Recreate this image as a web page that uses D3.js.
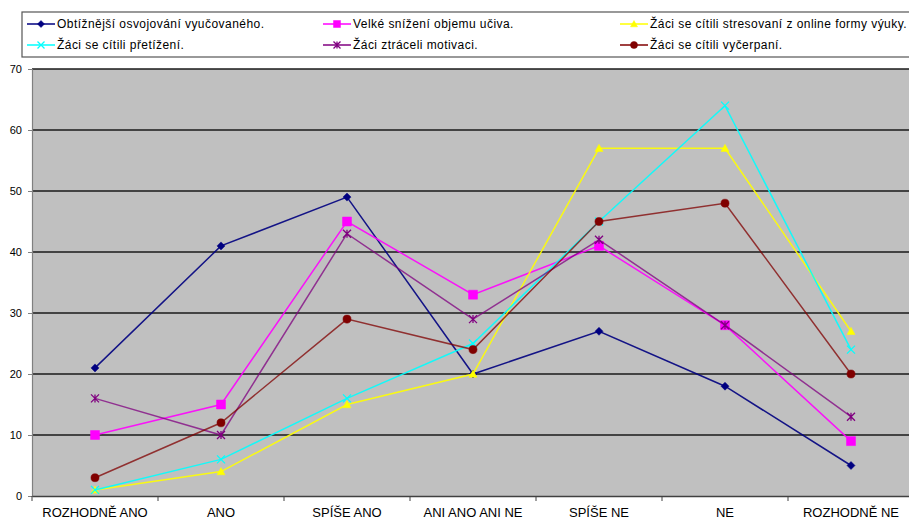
<!DOCTYPE html>
<html>
<head>
<meta charset="utf-8">
<script src="https://cdn.jsdelivr.net/npm/d3@7"></script>
<style>
  body { margin: 0; background: #fff; }
  svg { display: block; }
</style>
</head>
<body>
<svg id="chart" width="909" height="519"></svg>
<script>
const categories = ["ROZHODNĚ ANO", "ANO", "SPÍŠE ANO", "ANI ANO ANI NE", "SPÍŠE NE", "NE", "ROZHODNĚ NE"];
const yTicks = [0, 10, 20, 30, 40, 50, 60, 70];

const obtiznejsi = [21, 41, 49, 20, 27, 18, 5];
const snizeni = [10, 15, 45, 33, 41, 28, 9];
const stresovani = [1, 4, 15, 20, 57, 57, 27];
const pretizeni = [1, 6, 16, 25, 45, 64, 24];
const motivace = [16, 10, 43, 29, 42, 28, 13];
const vycerpani = [3, 12, 29, 24, 45, 48, 20];

const series = [
  { name: "Obtížnější osvojování vyučovaného.", values: obtiznejsi, color: "#000080", marker: "diamond" },
  { name: "Velké snížení objemu učiva.", values: snizeni, color: "#ff00ff", marker: "square" },
  { name: "Žáci se cítili stresovaní z online formy výuky.", values: stresovani, color: "#ffff00", marker: "triangle" },
  { name: "Žáci se cítili přetížení.", values: pretizeni, color: "#00ffff", marker: "x" },
  { name: "Žáci ztráceli motivaci.", values: motivace, color: "#800080", marker: "star" },
  { name: "Žáci se cítili vyčerpaní.", values: vycerpani, color: "#800000", marker: "circle" }
];

const svg = d3.select("#chart");
const plot = { left: 32, right: 914, top: 69, bottom: 496 };

const x = d3.scaleBand().domain(categories).range([plot.left, plot.right]);
const y = d3.scaleLinear().domain([0, 70]).range([plot.bottom, plot.top]);
const cx = c => x(c) + x.bandwidth() / 2;

// plot background
svg.append("rect")
  .attr("x", plot.left).attr("y", plot.top)
  .attr("width", plot.right - plot.left).attr("height", plot.bottom - plot.top)
  .attr("fill", "#c0c0c0");

// gridlines
svg.append("g")
  .selectAll("line")
  .data(yTicks.filter(d => d > 0))
  .join("line")
  .attr("x1", plot.left).attr("x2", plot.right)
  .attr("y1", d => y(d)).attr("y2", d => y(d))
  .attr("stroke", "#1a1a1a").attr("stroke-width", 1.6);

// y axis
const yAxis = svg.append("g")
  .attr("transform", `translate(${plot.left},0)`)
  .call(d3.axisLeft(y).tickValues(yTicks).tickSize(4).tickPadding(6));
yAxis.select(".domain").attr("stroke", "#808080").attr("stroke-width", 1.2);
yAxis.selectAll(".tick line").attr("stroke", "#808080");
yAxis.selectAll("text")
  .attr("font-family", "Liberation Sans, Arial, sans-serif")
  .attr("font-size", 11).attr("fill", "#000");

// x axis (labels sit at the very bottom edge, as in the original)
const xAxis = svg.append("g")
  .attr("transform", `translate(0,${plot.bottom})`)
  .call(d3.axisBottom(x).tickSize(0));
xAxis.select(".domain").attr("stroke", "#404040").attr("stroke-width", 1.6);
xAxis.selectAll("text")
  .attr("y", 21).attr("dy", 0)
  .attr("font-family", "Liberation Sans, Arial, sans-serif")
  .attr("font-size", 13).attr("fill", "#000");
// tick marks at category boundaries
svg.append("g")
  .selectAll("line")
  .data(categories)
  .join("line")
  .attr("x1", d => x(d)).attr("x2", d => x(d))
  .attr("y1", plot.bottom).attr("y2", plot.bottom + 5)
  .attr("stroke", "#404040");

const markerPath = (type, size) => {
  const r = size / 2;
  switch (type) {
    case "diamond": return `M0,${-r}L${r},0L0,${r}L${-r},0Z`;
    case "square": return `M${-r},${-r}H${r}V${r}H${-r}Z`;
    case "triangle": return `M0,${-r}L${r},${r * 0.8}L${-r},${r * 0.8}Z`;
    case "x": return `M${-r},${-r}L${r},${r}M${r},${-r}L${-r},${r}`;
    case "star": return `M${-r},${-r}L${r},${r}M${r},${-r}L${-r},${r}M0,${-r}V${r}`;
    default: return d3.symbol(d3.symbolCircle, size * size * 0.8)();
  }
};

const drawMarker = (g, s, size) => {
  const open = s.marker === "x" || s.marker === "star";
  g.append("path")
    .attr("d", markerPath(s.marker, size))
    .attr("fill", open ? "none" : s.color)
    .attr("stroke", s.color)
    .attr("stroke-width", open ? 1.3 : 0.5);
};

const line = d3.line().x((d, i) => cx(categories[i])).y(d => y(d));

series.forEach(s => {
  svg.append("path")
    .datum(s.values)
    .attr("d", line)
    .attr("fill", "none")
    .attr("stroke", s.color)
    .attr("stroke-width", 1.5)
    .attr("stroke-opacity", s.color === "#800080" || s.color === "#800000" ? 0.75 : 0.9);
  s.values.forEach((v, i) => {
    const g = svg.append("g").attr("transform", `translate(${cx(categories[i])},${y(v)})`);
    drawMarker(g, s, s.marker === "square" ? 9 : 8);
  });
});

// legend
const legend = svg.append("g");
legend.append("rect")
  .attr("x", 22).attr("y", 12).attr("width", 895).attr("height", 45)
  .attr("fill", "#fff").attr("stroke", "#555").attr("stroke-width", 1.2);

const colX = [27, 323, 620];
const rowY = [24, 45];
series.forEach((s, i) => {
  const lx = colX[i % 3], ly = rowY[Math.floor(i / 3)];
  const item = legend.append("g").attr("transform", `translate(${lx},${ly})`);
  item.append("line").attr("x1", 0).attr("x2", 28).attr("y1", 0).attr("y2", 0)
    .attr("stroke", s.color).attr("stroke-width", 1.5);
  drawMarker(item.append("g").attr("transform", "translate(14,0)"), s, 7);
  item.append("text")
    .attr("x", 30).attr("y", 4)
    .attr("font-family", "Liberation Sans, Arial, sans-serif")
    .attr("font-size", 12)
    .attr("letter-spacing", 0.45)
    .text(s.name);
});
</script>
</body>
</html>
